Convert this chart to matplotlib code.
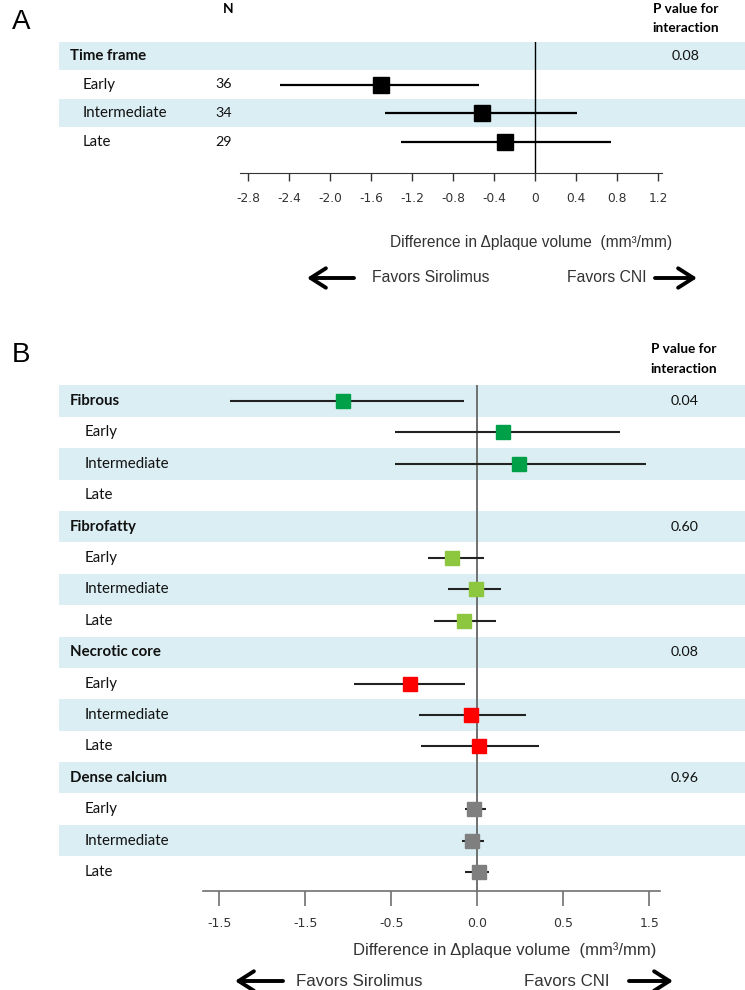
import numpy as np
import matplotlib
matplotlib.use("Agg")
import matplotlib.pyplot as plt
from matplotlib.transforms import blended_transform_factory
from matplotlib import font_manager

# ---------------- data ----------------
A_labels = ["Time frame", "Early", "Intermediate", "Late"]
A_bold = [True, False, False, False]
A_n = ["", "36", "34", "29"]
A_est = [np.nan, -1.50, -0.52, -0.29]
A_lo = [np.nan, -2.49, -1.46, -1.31]
A_hi = [np.nan, -0.55, 0.41, 0.74]
A_p = ["0.08", "", "", ""]
A_ticks = [-2.8, -2.4, -2.0, -1.6, -1.2, -0.8, -0.4, 0.0, 0.4, 0.8, 1.2]
A_ticklabels = ["-2.8", "-2.4", "-2.0", "-1.6", "-1.2", "-0.8", "-0.4", "0", "0.4", "0.8", "1.2"]

B_labels = ["Fibrous", "Early", "Intermediate", "Late",
            "Fibrofatty", "Early", "Intermediate", "Late",
            "Necrotic core", "Early", "Intermediate", "Late",
            "Dense calcium", "Early", "Intermediate", "Late"]
B_bold = [True, False, False, False] * 4
B_est = [-0.78, 0.15, 0.24, np.nan,
         np.nan, -0.15, -0.01, -0.08,
         np.nan, -0.39, -0.04, 0.01,
         np.nan, -0.02, -0.03, 0.01]
B_lo = [-1.44, -0.48, -0.48, np.nan,
        np.nan, -0.29, -0.17, -0.25,
        np.nan, -0.72, -0.34, -0.33,
        np.nan, -0.07, -0.09, -0.07]
B_hi = [-0.08, 0.83, 0.98, np.nan,
        np.nan, 0.04, 0.14, 0.11,
        np.nan, -0.07, 0.28, 0.36,
        np.nan, 0.05, 0.04, 0.07]
B_group_colors = ["#00A048", "#8DC63F", "#FF0000", "#7F7F7F"]
B_p = ["0.04", "", "", "", "0.60", "", "", "", "0.08", "", "", "", "0.96", "", "", ""]
B_ticks = [-1.5, -1.0, -0.5, 0.0, 0.5, 1.0]
B_ticklabels = ["-1.5", "-1.5", "-0.5", "0.0", "0.5", "1.5"]

# ---------------- style ----------------
available = {f.name for f in font_manager.fontManager.ttflist}
def pick(*names):
    for n in names:
        if n in available:
            return n
    return "DejaVu Sans"
ROWFONT = pick("Lato", "Open Sans", "DejaVu Sans")
ARIAL = pick("Liberation Sans", "DejaVu Sans")
TICKFONT = pick("DejaVu Sans")

BAND = "#DAEEF3"
W, H = 745, 990
fig = plt.figure(figsize=(W / 100, H / 100), dpi=100)

def fx(px):
    return px / W

def fy(py):
    return 1 - py / H


def make_panel(top_row_px, row_h, axis_px, left_px, right_px, zero_px, px_per_unit):
    top = top_row_px - row_h / 2
    ax = fig.add_axes([fx(left_px), fy(axis_px), fx(right_px) - fx(left_px), (axis_px - top) / H])
    ax.set_xlim((left_px - zero_px) / px_per_unit, (right_px - zero_px) / px_per_unit)
    ax.set_ylim((axis_px - top_row_px) / row_h, -0.5)
    for s in ["top", "left", "right"]:
        ax.spines[s].set_visible(False)
    ax.set_yticks([])
    ax.patch.set_alpha(0)
    return ax


def arrow(x0, x1, y):
    fig.add_artist(matplotlib.patches.FancyArrowPatch(
        (fx(x0), fy(y)), (fx(x1), fy(y)), transform=fig.transFigure,
        arrowstyle="->,head_length=0.55,head_width=0.35", lw=2.8, color="black",
        mutation_scale=20, shrinkA=0, shrinkB=0))


# ================= Panel A =================
axA = make_panel(56, 28.5, 173, 59, 745, 535, 102.5)
trA = blended_transform_factory(fig.transFigure, axA.transData)
for i in range(len(A_labels)):
    if i % 2 == 0:
        axA.axhspan(i - 0.5, i + 0.5, color=BAND, zorder=0, lw=0)
axA.axvline(0, color="black", lw=1.0, zorder=1)
rows = np.arange(len(A_labels))
axA.hlines(rows, A_lo, A_hi, color="black", lw=1.6, zorder=2)
axA.plot(A_est, rows, ls="none", marker="s", ms=11.5, color="black", zorder=3)
for i, lab in enumerate(A_labels):
    axA.text(fx(70 if A_bold[i] else 83), i, lab, transform=trA, va="center", ha="left",
             fontsize=10.8, fontweight="bold" if A_bold[i] else "normal",
             family=ROWFONT, color="#111111")
    if A_n[i]:
        axA.text(fx(224), i, A_n[i], transform=trA, va="center", ha="center",
                 fontsize=10.3, family=ROWFONT, color="#111111")
    if A_p[i]:
        axA.text(fx(686), i, A_p[i], transform=trA, va="center", ha="center",
                 fontsize=10.3, family=ROWFONT, color="#111111")
axA.spines["bottom"].set_bounds(-2.88, 1.24)
axA.spines["bottom"].set_color("#333333")
axA.set_xticks(A_ticks)
axA.set_xticklabels(A_ticklabels, family=TICKFONT, fontsize=8.8, color="#333333")
axA.tick_params(axis="x", length=6, width=1, color="#333333", pad=8)

fig.text(fx(12), fy(22), "A", fontsize=20, family=ARIAL, va="center", ha="left")
fig.text(fx(228), fy(9), "N", fontsize=9.8, fontweight="bold", family=ROWFONT, va="center", ha="center")
fig.text(fx(686), fy(9), "P value for", fontsize=9.8, fontweight="bold", family=ROWFONT, va="center", ha="center")
fig.text(fx(686), fy(28), "interaction", fontsize=9.8, fontweight="bold", family=ROWFONT, va="center", ha="center")
fig.text(fx(531), fy(243), "Difference in \u0394plaque volume  (mm\u00b3/mm)", fontsize=11.2,
         family=ARIAL, va="center", ha="center", color="#333333")
fig.text(fx(372), fy(278), "Favors Sirolimus", fontsize=11.3, family=ARIAL, va="center", ha="left", color="#333333")
fig.text(fx(567), fy(278), "Favors CNI", fontsize=11.3, family=ARIAL, va="center", ha="left", color="#333333")
arrow(354, 307, 278)
arrow(655, 697, 278)

# ================= Panel B =================
axB = make_panel(401, 31.4, 891, 59, 745, 477.4, 172)
trB = blended_transform_factory(fig.transFigure, axB.transData)
for i in range(len(B_labels)):
    if i % 2 == 0:
        axB.axhspan(i - 0.5, i + 0.5, color=BAND, zorder=0, lw=0)
axB.axvline(0, color="#707070", lw=1.4, zorder=1)
rowsB = np.arange(len(B_labels))
axB.hlines(rowsB, B_lo, B_hi, color="#222222", lw=1.5, zorder=2)
colorsB = [B_group_colors[i // 4] for i in range(len(B_labels))]
for i in range(len(B_labels)):
    if not np.isnan(B_est[i]):
        axB.plot([B_est[i]], [i], ls="none", marker="s", ms=10.5, color=colorsB[i], zorder=3)
for i, lab in enumerate(B_labels):
    axB.text(fx(70 if B_bold[i] else 85), i, lab, transform=trB, va="center", ha="left",
             fontsize=10.8, fontweight="bold" if B_bold[i] else "normal",
             family=ROWFONT, color="#111111")
    if B_p[i]:
        axB.text(fx(685), i, B_p[i], transform=trB, va="center", ha="center",
                 fontsize=10.3, family=ROWFONT, color="#111111")
axB.spines["bottom"].set_bounds(-1.595, 1.062)
axB.spines["bottom"].set_color("#707070")
axB.spines["bottom"].set_linewidth(1.2)
axB.set_xticks(B_ticks)
axB.set_xticklabels(B_ticklabels, family=TICKFONT, fontsize=9, color="#333333")
axB.tick_params(axis="x", length=11, width=1.2, color="#707070", pad=8)

fig.text(fx(12), fy(355), "B", fontsize=20, family=ARIAL, va="center", ha="left")
fig.text(fx(684), fy(349), "P value for", fontsize=9.8, fontweight="bold", family=ROWFONT, va="center", ha="center")
fig.text(fx(684), fy(369), "interaction", fontsize=9.8, fontweight="bold", family=ROWFONT, va="center", ha="center")
fig.text(fx(505), fy(950), "Difference in \u0394plaque volume  (mm\u00b3/mm)", fontsize=12,
         family=ARIAL, va="center", ha="center", color="#333333")
fig.text(fx(296), fy(981), "Favors Sirolimus", fontsize=12.2, family=ARIAL, va="center", ha="left", color="#333333")
fig.text(fx(524), fy(981), "Favors CNI", fontsize=12.2, family=ARIAL, va="center", ha="left", color="#333333")
arrow(283, 235, 981)
arrow(629, 673, 981)

fig.savefig("out.png", dpi=100)
